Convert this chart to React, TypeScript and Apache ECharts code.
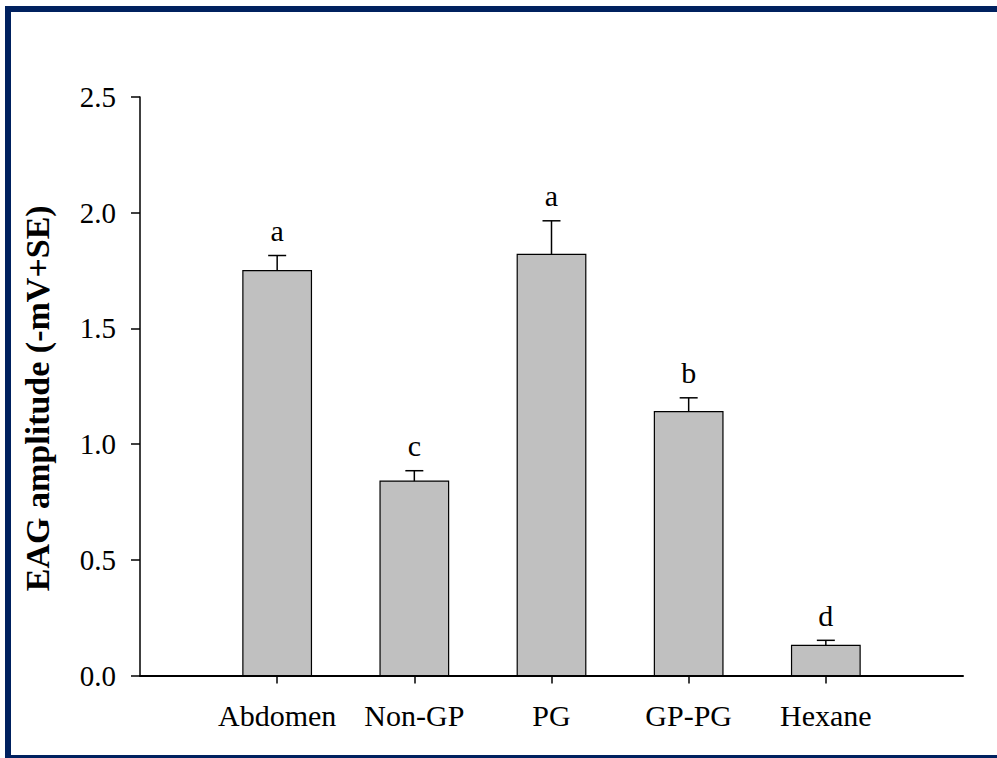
import React, { useEffect, useRef } from "react";
import * as echarts from "echarts";

const categories = ["Abdomen", "Non-GP", "PG", "GP-PG", "Hexane"];
const means = [1.75, 0.84, 1.82, 1.14, 0.13];
const stdErrs = [0.065, 0.045, 0.145, 0.06, 0.022];
const letters = ["a", "c", "a", "b", "d"];

const FONT = "'Liberation Serif', 'Times New Roman', serif";
const NAVY = "#00215F";

export default function App() {
  const ref = useRef<HTMLDivElement>(null);
  useEffect(() => {
    if (!ref.current) return;
    const chart = echarts.init(ref.current, null, { renderer: "svg" });
    const data = categories.map((c, i) => [i + 1, means[i], stdErrs[i], i]);
    chart.setOption({
      animation: false,
      backgroundColor: "#ffffff",
      grid: { left: 140, right: 34, top: 97, bottom: 82.5 },
      graphic: [
        {
          type: "polyline",
          shape: { points: [[997, 9], [8, 9], [8, 758], [997, 758]] },
          style: { fill: "none", stroke: NAVY, lineWidth: 6, lineJoin: "miter" },
          z: 100,
        },
      ],
      xAxis: {
        type: "value",
        min: 0,
        max: 6,
        interval: 1,
        splitLine: { show: false },
        axisLine: { show: true, lineStyle: { color: "#000", width: 2 } },
        axisTick: {
          show: true,
          length: 8,
          customValues: [1, 2, 3, 4, 5],
          lineStyle: { color: "#000", width: 1.5 },
        },
        axisLabel: {
          customValues: [1, 2, 3, 4, 5],
          margin: 25,
          color: "#000",
          fontFamily: FONT,
          fontSize: 30,
          formatter: (v: number) => categories[v - 1] ?? "",
        },
      },
      yAxis: {
        type: "value",
        min: 0,
        max: 2.5,
        interval: 0.5,
        splitLine: { show: false },
        axisLine: { show: true, lineStyle: { color: "#000", width: 1.5 } },
        axisTick: { show: true, length: 9, lineStyle: { color: "#000", width: 1.5 } },
        axisLabel: {
          margin: 24,
          color: "#000",
          fontFamily: FONT,
          fontSize: 29,
          formatter: (v: number) => v.toFixed(1),
        },
        name: "EAG amplitude (-mV+SE)",
        nameLocation: "middle",
        nameGap: 86,
        nameTextStyle: {
          color: "#000",
          fontFamily: FONT,
          fontSize: 34,
          fontWeight: "bold",
          padding: [0, 24, 0, 0],
        },
      },
      series: [
        {
          type: "custom",
          data,
          encode: { x: 0, y: 1 },
          renderItem: (params: any, api: any) => {
            const x = api.value(0);
            const v = api.value(1);
            const se = api.value(2);
            const idx = api.value(3);
            const base = api.coord([x, 0]);
            const top = api.coord([x, v]);
            const errTop = api.coord([x, v + se]);
            const w = api.size([0.5, 0])[0];
            const cap = 18;
            return {
              type: "group",
              children: [
                {
                  type: "rect",
                  shape: { x: base[0] - w / 2, y: top[1], width: w, height: base[1] - top[1] },
                  style: { fill: "#C0C0C0", stroke: "#000", lineWidth: 1.2 },
                },
                {
                  type: "line",
                  shape: { x1: top[0], y1: top[1], x2: errTop[0], y2: errTop[1] },
                  style: { stroke: "#000", lineWidth: 1.5 },
                },
                {
                  type: "line",
                  shape: { x1: errTop[0] - cap / 2, y1: errTop[1], x2: errTop[0] + cap / 2, y2: errTop[1] },
                  style: { stroke: "#000", lineWidth: 1.5 },
                },
                {
                  type: "text",
                  style: {
                    x: errTop[0],
                    y: errTop[1] - 10,
                    text: letters[idx],
                    fill: "#000",
                    font: `30px ${FONT}`,
                    align: "center",
                    verticalAlign: "bottom",
                  },
                },
              ],
            };
          },
        },
      ],
    });
    return () => chart.dispose();
  }, []);
  return (
    <div
      ref={ref}
      style={{ position: "fixed", left: 0, top: 0, width: 997, height: 758 }}
    />
  );
}
